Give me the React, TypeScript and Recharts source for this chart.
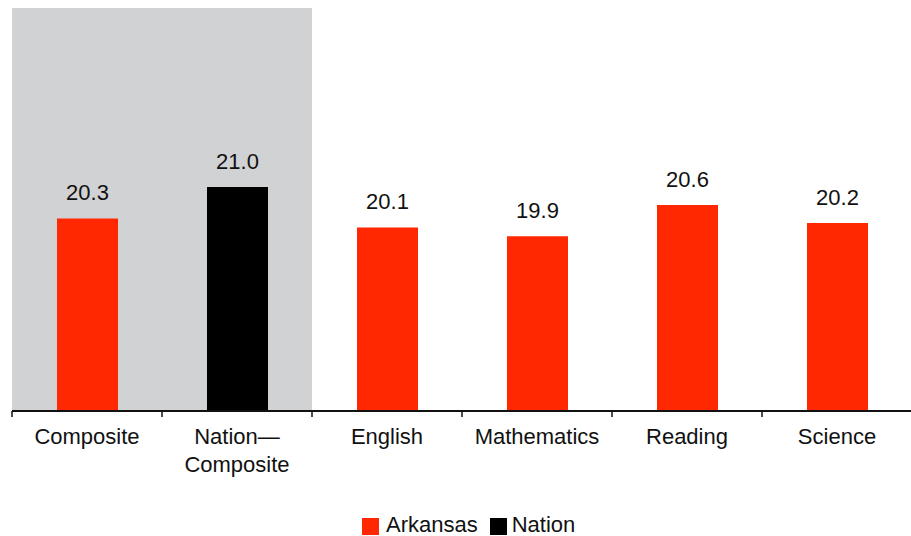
import React from "react";
import {
  BarChart,
  Bar,
  Cell,
  XAxis,
  YAxis,
  ReferenceArea,
  LabelList,
} from "recharts";

const categories = [
  "Composite",
  "Nation—Composite",
  "English",
  "Mathematics",
  "Reading",
  "Science",
];
const scores = [20.3, 21.0, 20.1, 19.9, 20.6, 20.2];
const groups = ["Arkansas", "Nation", "Arkansas", "Arkansas", "Arkansas", "Arkansas"];
const legendItems = ["Arkansas", "Nation"];

const colors: Record<string, string> = {
  Arkansas: "#FF2800",
  Nation: "#000000",
};

const FONT = '"Liberation Sans", Arial, Helvetica, sans-serif';
const TEXT = "#111111";

const data = categories.map((name, i) => ({
  name,
  score: scores[i],
  group: groups[i],
}));

// label split after the dash, tick mark drawn at the left edge of each band
const CategoryTick = ({ x, y, payload }: any) => {
  const value: string = payload.value;
  const idx = value.indexOf("—");
  const lines = idx >= 0 ? [value.slice(0, idx + 1), value.slice(idx + 1)] : [value];
  const half = payload.offset || 0;
  const axisY = y - 17;
  return (
    <g>
      <line
        x1={x - half}
        x2={x - half}
        y1={axisY}
        y2={axisY + 6}
        stroke={TEXT}
        strokeWidth={1.5}
      />
      <text
        x={x}
        y={y}
        textAnchor="middle"
        fontSize={22}
        fontFamily={FONT}
        fill={TEXT}
      >
        {lines.map((line, i) => (
          <tspan key={i} x={x} dy={i === 0 ? "0.72em" : 28}>
            {line}
          </tspan>
        ))}
      </text>
    </g>
  );
};

const LegendBox = () => (
  <div
    style={{
      position: "absolute",
      left: 362,
      top: 514,
      display: "flex",
      alignItems: "flex-start",
      fontFamily: FONT,
      fontSize: 22,
      lineHeight: "22px",
      color: TEXT,
    }}
  >
    {legendItems.map((item, i) => (
      <div
        key={item}
        style={{ display: "flex", alignItems: "flex-start", marginLeft: i === 0 ? 0 : 12 }}
      >
        <div
          style={{
            width: 17,
            height: 17,
            marginTop: 4,
            marginRight: i === 0 ? 7 : 5,
            background: colors[item],
          }}
        />
        <span>{item}</span>
      </div>
    ))}
  </div>
);

export default function App() {
  return (
    <div
      style={{
        position: "absolute",
        left: 0,
        top: 0,
        width: 911,
        height: 536,
        overflow: "hidden",
        background: "#fff",
      }}
    >
      <BarChart
        width={912}
        height={536}
        data={data}
        margin={{ top: 8, right: 0, bottom: 65, left: 12 }}
      >
        <ReferenceArea
          x1="Composite"
          x2="Nation—Composite"
          fill="#D1D2D4"
          fillOpacity={1}
          stroke="none"
          ifOverflow="visible"
        />
        <YAxis hide domain={[16, 25]} allowDataOverflow />
        <XAxis
          dataKey="name"
          height={60}
          interval={0}
          tickLine={false}
          tickSize={0}
          tickMargin={17}
          axisLine={{ stroke: TEXT, strokeWidth: 2 }}
          tick={<CategoryTick />}
        />
        <Bar dataKey="score" barSize={61} isAnimationActive={false}>
          {data.map((d, i) => (
            <Cell key={i} fill={colors[d.group]} />
          ))}
          <LabelList
            dataKey="score"
            position="top"
            offset={18}
            formatter={(v: any) => Number(v).toFixed(1)}
            style={{ fontSize: 22, fontFamily: FONT, fill: TEXT }}
          />
        </Bar>
      </BarChart>
      <LegendBox />
    </div>
  );
}
